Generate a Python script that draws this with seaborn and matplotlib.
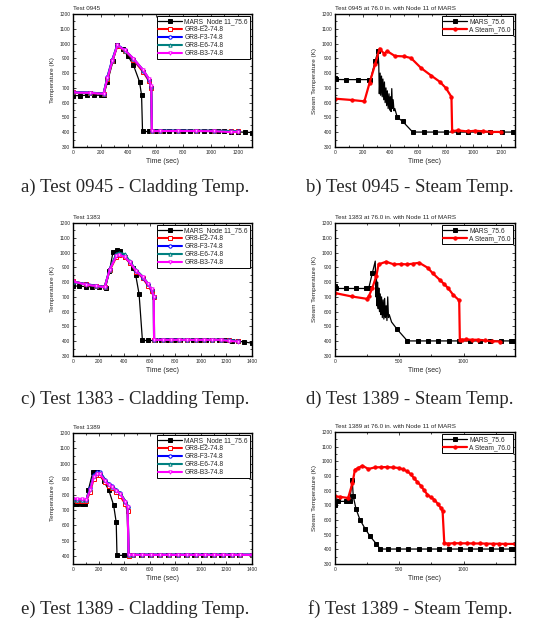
import numpy as np
import matplotlib
matplotlib.use("Agg")
import matplotlib.pyplot as plt
from matplotlib.ticker import AutoMinorLocator, MultipleLocator
import seaborn as sns

# ---- a) Test 0945 cladding ----
a_mars_t = [0, 50, 100, 150, 200, 225, 250, 290, 322, 360, 400, 439, 483, 498, 505, 550, 600, 650, 700, 750, 800,
            850, 900, 950, 1000, 1050, 1100, 1150, 1200, 1250, 1300]
a_mars_T = [648, 648, 650, 650, 650, 655, 740, 880, 989, 960, 915, 854, 742, 650, 405, 405, 405, 405, 405, 405, 405,
            405, 405, 405, 405, 405, 405, 404, 402, 400, 398]
a_gr8_t = [0, 125, 222, 250, 285, 322, 378, 439, 512, 553, 568, 573, 629, 761, 890, 1024, 1146, 1200]
a_e2_T = [669, 666, 660, 760, 880, 985, 950, 890, 805, 745, 700, 408, 410, 410, 410, 410, 408, 408]
a_f3_T = [672, 668, 662, 775, 890, 992, 955, 895, 815, 752, 705, 410, 411, 411, 410, 410, 408, 408]
a_e6_T = [670, 667, 661, 770, 885, 990, 953, 898, 818, 758, 708, 409, 410, 410, 410, 410, 408, 408]
a_b3_T = [669, 666, 660, 765, 882, 988, 955, 898, 818, 760, 710, 407, 408, 408, 408, 407, 401, 404]

# ---- b) Test 0945 steam ----
b_mars_t = [0, 5, 80, 163, 244, 256, 290, 310, 316, 320, 326, 330, 336, 341, 346, 352, 357, 362, 368, 373, 378, 384,
            390, 395, 400, 405, 410, 415, 420, 426, 432, 450, 488, 561, 646, 724, 805, 885, 963, 1041, 1122, 1207,
            1285, 1300]
b_mars_T = [767, 757, 756, 756, 756, 756, 880, 948, 860, 660, 800, 650, 780, 640, 760, 620, 740, 600, 700, 580, 680,
            560, 660, 550, 640, 540, 695, 560, 620, 545, 560, 500, 474, 401, 401, 401, 401, 401, 401, 401, 401, 401,
            401, 401]
b_stm_t = [0, 122, 212, 250, 290, 322, 354, 378, 432, 500, 549, 622, 695, 756, 800, 841, 846, 890, 960, 1010, 1070,
           1130, 1200]
b_stm_T = [627, 618, 609, 735, 860, 966, 932, 948, 916, 913, 902, 834, 783, 742, 700, 639, 408, 412, 405, 410, 406,
           402, 402]

# ---- c) Test 1383 cladding ----
c_mars_t = [0, 50, 100, 150, 200, 255, 285, 313, 345, 365, 405, 470, 490, 517, 543, 590, 640, 690, 740, 790, 840,
            890, 940, 990, 1040, 1090, 1140, 1190, 1240, 1290, 1340, 1400]
c_mars_T = [775, 772, 770, 768, 766, 762, 874, 1004, 1017, 1010, 971, 896, 850, 718, 405, 405, 405, 405, 405, 405,
            405, 405, 405, 405, 405, 405, 405, 405, 404, 400, 395, 387]
c_gr8_t = [0, 104, 180, 248, 287, 339, 360, 405, 444, 496, 548, 587, 614, 632, 634, 700, 765, 830, 895, 960, 1025,
           1090, 1155, 1220, 1290]
c_e2_T = [805, 785, 775, 768, 880, 970, 982, 968, 930, 870, 825, 775, 740, 700, 410, 410, 410, 410, 410, 410, 410,
          410, 410, 408, 400]
c_f3_T = [803, 786, 776, 767, 888, 985, 992, 975, 935, 875, 830, 785, 750, 702, 410, 411, 411, 411, 410, 410, 410,
          410, 410, 408, 400]
c_e6_T = [804, 784, 775, 768, 885, 990, 998, 990, 940, 880, 836, 790, 755, 705, 410, 410, 410, 410, 410, 410, 410,
          410, 410, 408, 400]
c_b3_T = [805, 782, 774, 766, 885, 976, 985, 970, 935, 874, 833, 788, 752, 702, 409, 409, 409, 409, 409, 409, 409,
          409, 409, 402, 398]

# ---- d) Test 1383 steam ----
d_mars_t = [0, 5, 82, 160, 242, 262, 290, 313, 318, 322, 326, 331, 336, 341, 346, 352, 357, 362, 368, 374, 380, 386,
            392, 398, 404, 410, 416, 422, 440, 484, 563, 642, 721, 800, 887, 966, 1047, 1129, 1208, 1289, 1368, 1400]
d_mars_T = [776, 757, 757, 757, 757, 757, 860, 942, 700, 850, 640, 800, 620, 760, 600, 720, 580, 700, 560, 680, 550,
            690, 560, 640, 540, 700, 560, 580, 530, 480, 402, 402, 402, 402, 402, 402, 402, 402, 402, 402, 402, 402]
d_stm_t = [0, 129, 247, 263, 290, 321, 339, 397, 458, 512, 563, 608, 655, 721, 760, 813, 845, 879, 918, 966, 971,
           984, 1018, 1063, 1116, 1168, 1221, 1287]
d_stm_T = [726, 703, 687, 703, 760, 840, 920, 938, 920, 922, 920, 925, 931, 897, 860, 817, 790, 760, 715, 676, 407,
           410, 412, 410, 410, 405, 400, 398]

# ---- e) Test 1389 cladding ----
e_mars_t = [0, 34, 68, 96, 120, 156, 187, 240, 279, 318, 338, 344, 401, 460, 530, 600, 670, 740, 810, 880, 950,
            1020, 1090, 1160, 1230, 1300, 1400]
e_mars_T = [742, 740, 738, 738, 830, 950, 948, 888, 832, 731, 620, 406, 406, 406, 406, 406, 406, 406, 406, 406, 406,
            406, 406, 406, 406, 406, 406]
e_gr8_t = [0, 35, 70, 104, 135, 161, 187, 213, 253, 280, 305, 340, 370, 409, 427, 435, 470, 540, 610, 680, 750, 820,
           890, 960, 1030, 1100, 1170, 1240, 1310, 1400]
e_e2_T = [765, 762, 761, 760, 820, 900, 925, 925, 880, 855, 840, 815, 790, 740, 695, 405, 410, 410, 410, 410, 410,
          410, 410, 410, 410, 410, 410, 410, 410, 410]
e_f3_T = [770, 767, 766, 765, 840, 925, 945, 945, 895, 868, 855, 830, 808, 755, 722, 408, 411, 411, 411, 411, 411,
          411, 411, 411, 411, 411, 411, 411, 411, 411]
e_e6_T = [768, 766, 765, 764, 835, 920, 940, 940, 892, 866, 852, 830, 810, 758, 725, 407, 410, 410, 410, 410, 410,
          410, 410, 410, 410, 410, 410, 410, 410, 410]
e_b3_T = [774, 771, 769, 768, 830, 914, 936, 931, 888, 862, 849, 826, 806, 752, 720, 406, 409, 409, 409, 409, 409,
          409, 409, 409, 409, 409, 409, 409, 409, 409]

# ---- f) Test 1389 steam ----
f_mars_t = [0, 24, 89, 115, 134, 142, 163, 194, 234, 273, 320, 352, 410, 490, 570, 650, 730, 810, 890, 970, 1050,
            1130, 1210, 1290, 1370, 1400]
f_mars_T = [705, 727, 727, 730, 875, 761, 677, 602, 541, 489, 439, 402, 402, 402, 402, 402, 402, 402, 402, 402, 402,
            402, 402, 402, 402, 402]
f_stm_t = [0, 40, 102, 136, 155, 181, 213, 260, 312, 360, 404, 450, 496, 530, 562, 590, 614, 640, 667, 693, 719, 745,
           772, 798, 824, 837, 850, 877, 925, 975, 1025, 1075, 1125, 1175, 1225, 1275, 1325, 1400]
f_stm_T = [761, 758, 750, 852, 943, 955, 970, 948, 959, 960, 961, 958, 955, 945, 932, 912, 886, 860, 834, 803, 773,
           755, 739, 712, 682, 659, 443, 439, 442, 441, 441, 440, 440, 439, 438, 438, 437, 437]

titles = ["Test 0945", "Test 0945 at 76.0 in. with Node 11 of MARS",
          "Test 1383", "Test 1383 at 76.0 in. with Node 11 of MARS",
          "Test 1389", "Test 1389 at 76.0 in. with Node 11 of MARS"]
captions = ["a) Test 0945 - Cladding Temp.", "b) Test 0945 - Steam Temp.",
            "c) Test 1383 - Cladding Temp.", "d) Test 1389 - Steam Temp.",
            "e) Test 1389 - Cladding Temp.", "f) Test 1389 - Steam Temp."]
gr8_labels = ["GR8-E2-74.8", "GR8-F3-74.8", "GR8-E6-74.8", "GR8-B3-74.8"]
gr8_colors = ["red", "blue", "#008080", "magenta"]
gr8_markers = ["s", "o", "^", "v"]

sns.set_style("ticks")
plt.rcParams["font.family"] = ["Liberation Sans", "DejaVu Sans"]

fig = plt.figure(figsize=(5.36, 6.25), dpi=100)
W, H = 536, 625


def make_ax(left, top, right, bottom):
    return fig.add_axes([left / W, 1 - bottom / H, (right - left) / W, (bottom - top) / H])


def style(ax, title, xmax, xstep, ylab, ymin=300):
    ax.set_xlim(0, xmax)
    ax.set_ylim(ymin, 1200)
    ax.xaxis.set_major_locator(MultipleLocator(xstep))
    ax.yaxis.set_major_locator(MultipleLocator(100))
    ax.xaxis.set_minor_locator(AutoMinorLocator(2))
    ax.yaxis.set_minor_locator(AutoMinorLocator(2))
    ax.tick_params(which="both", direction="in", top=True, right=True, labelsize=3.5, pad=2, width=0.6)
    ax.tick_params(which="major", length=2.5)
    ax.tick_params(which="minor", length=1.5)
    for s in ax.spines.values():
        s.set_linewidth(1.0)
        s.set_color("black")
    ax.set_xlabel("Time (sec)", fontsize=5, labelpad=2)
    ax.set_ylabel(ylab, fontsize=4.6, labelpad=3)
    ax.set_title(title, fontsize=4.5, loc="left", pad=3)
    leg = ax.legend(loc="upper right", fontsize=4.8, frameon=True, fancybox=False, edgecolor="black",
                    framealpha=1, borderaxespad=0.35, handlelength=3.6, labelspacing=0.15,
                    borderpad=0.25, handletextpad=0.3)
    leg.get_frame().set_linewidth(0.7)


def line(ax, t, T, color, marker, label, lw=1.5, ms=2.4, filled=False, every=1):
    sns.lineplot(x=t, y=T, ax=ax, color=color, marker=marker, label=label, lw=lw, ms=ms,
                 mec=color, mfc=color if filled else "white", mew=0.7, markevery=every,
                 sort=False, estimator=None)


def cladding(ax, mt, mT, gt, gTs, title, xmax, ymin=300):
    line(ax, mt, mT, "black", "s", "MARS_Node 11_75.6", lw=0.9, filled=True)
    for gT, c, m, lab in zip(gTs, gr8_colors, gr8_markers, gr8_labels):
        line(ax, gt, gT, c, m, lab)
    style(ax, title, xmax, 200, "Temperature (K)", ymin)


def steam(ax, mt, mT, st, sT, title, xmax, noisy=True):
    # no markers on the oscillating stretch of the MARS curve
    keep = [i for i, t in enumerate(mt) if not (noisy and 312 < t < 445)]
    line(ax, mt, mT, "black", "s", "MARS_75.6", lw=0.9, filled=True, every=keep)
    line(ax, st, sT, "red", "o", "A Steam_76.0", lw=1.6, filled=True)
    step = 200 if xmax == 1300 else 500
    style(ax, title, xmax, step, "Steam Temperature (K)")


ax_a = make_ax(73, 14, 252, 147)
ax_b = make_ax(335, 14, 515, 147)
ax_c = make_ax(73, 223, 252, 356)
ax_d = make_ax(335, 223, 515, 356)
ax_e = make_ax(73, 433, 252, 564)
ax_f = make_ax(335, 432, 515, 564)

cladding(ax_a, a_mars_t, a_mars_T, a_gr8_t, [a_e2_T, a_f3_T, a_e6_T, a_b3_T], titles[0], 1300)
steam(ax_b, b_mars_t, b_mars_T, b_stm_t, b_stm_T, titles[1], 1300)
cladding(ax_c, c_mars_t, c_mars_T, c_gr8_t, [c_e2_T, c_f3_T, c_e6_T, c_b3_T], titles[2], 1400)
steam(ax_d, d_mars_t, d_mars_T, d_stm_t, d_stm_T, titles[3], 1400)
cladding(ax_e, e_mars_t, e_mars_T, e_gr8_t, [e_e2_T, e_f3_T, e_e6_T, e_b3_T], titles[4], 1400, ymin=350)
steam(ax_f, f_mars_t, f_mars_T, f_stm_t, f_stm_T, titles[5], 1400, noisy=False)

cap_pos = [(135, 187), (410, 187), (135, 399), (410, 399), (135, 609), (410, 609)]
for (cx, cy), cap in zip(cap_pos, captions):
    fig.text(cx / W, 1 - cy / H, cap, ha="center", va="center", fontsize=13.5,
             family=["Liberation Serif", "DejaVu Serif"])

fig.savefig("out.png", dpi=100, facecolor="white")
